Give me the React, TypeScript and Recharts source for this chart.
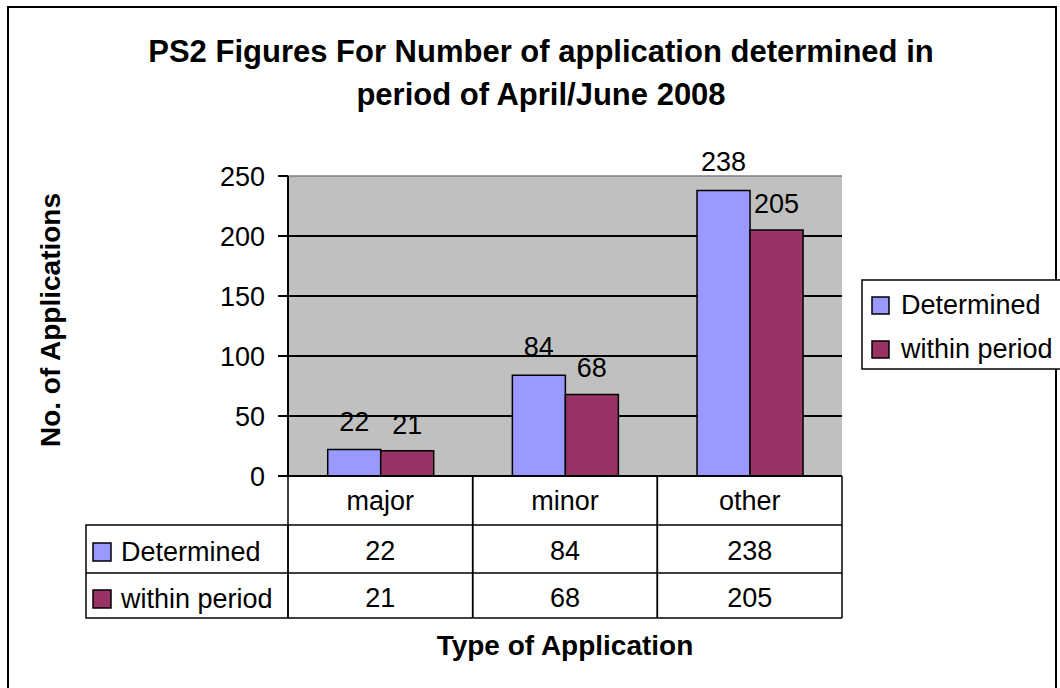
import React from "react";
import {
  BarChart,
  Bar,
  XAxis,
  YAxis,
  CartesianGrid,
  ReferenceLine,
  LabelList,
} from "recharts";

const categories = ["major", "minor", "other"];
const determined = [22, 84, 238];
const withinPeriod = [21, 68, 205];
const seriesNames = ["Determined", "within period"];
const seriesColors = ["#9999FF", "#993366"];
const yTicks = [0, 50, 100, 150, 200, 250];
const gridValues = [50, 100, 150, 200];

const title = ["PS2 Figures For Number of application determined in", "period of April/June 2008"];
const yTitle = "No. of Applications";
const xTitle = "Type of Application";

const data = categories.map((name, i) => ({
  name,
  determined: determined[i],
  within: withinPeriod[i],
}));

const FONT = "'Liberation Sans', Arial, Helvetica, sans-serif";

// data-table cells drawn under each category, hung off the x axis ticks
function TableTick(props: any) {
  const { x, y, payload } = props;
  const half = payload && payload.offset ? payload.offset : 92.3;
  const i = payload.index;
  const l = x - half;
  const r = x + half;
  const line = { stroke: "#000", strokeWidth: 1.5 };
  return (
    <g>
      <line x1={l} x2={l} y1={y} y2={y + 142} {...line} />
      <line x1={r} x2={r} y1={y} y2={y + 142} {...line} />
      <line x1={l} x2={r} y1={y + 49} y2={y + 49} {...line} />
      <line x1={l} x2={r} y1={y + 97} y2={y + 97} {...line} />
      <line x1={l} x2={r} y1={y + 142} y2={y + 142} {...line} />
      <text x={x} y={y + 34} textAnchor="middle" fontSize={27} fontFamily={FONT} fill="#000">
        {payload.value}
      </text>
      <text x={x} y={y + 84} textAnchor="middle" fontSize={27} fontFamily={FONT} fill="#000">
        {determined[i]}
      </text>
      <text x={x} y={y + 131} textAnchor="middle" fontSize={27} fontFamily={FONT} fill="#000">
        {withinPeriod[i]}
      </text>
    </g>
  );
}

export default function App() {
  return (
    <div style={{ position: "absolute", left: 0, top: 0, width: 1060, height: 688, background: "#fff", fontFamily: FONT }}>
      <BarChart
        width={1060}
        height={688}
        data={data}
        margin={{ top: 176, right: 218, bottom: 62, left: 208 }}
        barCategoryGap="21.5%"
        barGap={0}
      >
        <CartesianGrid
          vertical={false}
          horizontalValues={gridValues}
          stroke="#000"
          strokeWidth={2}
          fill="#C0C0C0"
          fillOpacity={1}
        />
        <ReferenceLine y={250} stroke="#808080" strokeWidth={1.5} />
        <XAxis
          dataKey="name"
          height={150}
          interval={0}
          tickLine={false}
          tickSize={0}
          tickMargin={0}
          axisLine={{ stroke: "#000", strokeWidth: 2 }}
          tick={(p: any) => <TableTick {...p} />}
        />
        <YAxis
          domain={[0, 250]}
          ticks={yTicks}
          width={80}
          tickSize={10}
          tickMargin={13}
          axisLine={{ stroke: "#000", strokeWidth: 2 }}
          tickLine={{ stroke: "#000", strokeWidth: 2 }}
          tick={{ fill: "#000", fontSize: 27, fontFamily: FONT }}
        />
        <YAxis
          yAxisId="frame"
          orientation="right"
          domain={[0, 250]}
          width={0}
          tick={false}
          tickLine={false}
          axisLine={{ stroke: "#808080", strokeWidth: 1.5 }}
        />
        <Bar dataKey="determined" fill={seriesColors[0]} stroke="#000" strokeWidth={1.5} isAnimationActive={false}>
          <LabelList dataKey="determined" position="top" offset={19} fill="#000" fontSize={27} fontFamily={FONT} />
        </Bar>
        <Bar dataKey="within" fill={seriesColors[1]} stroke="#000" strokeWidth={1.5} isAnimationActive={false}>
          <LabelList dataKey="within" position="top" offset={17} fill="#000" fontSize={27} fontFamily={FONT} />
        </Bar>
      </BarChart>

      <svg
        width={1060}
        height={688}
        style={{ position: "absolute", left: 0, top: 0, pointerEvents: "none" }}
      >
        {/* chart frame */}
        <path d="M8,688 V7 H1056 V688" fill="none" stroke="#000" strokeWidth={2} />

        {/* title */}
        <text x={541} y={62} textAnchor="middle" fontSize={31} fontWeight="bold" fontFamily={FONT}>
          {title[0]}
        </text>
        <text x={541} y={105} textAnchor="middle" fontSize={31} fontWeight="bold" fontFamily={FONT}>
          {title[1]}
        </text>

        {/* axis titles */}
        <text
          x={0}
          y={0}
          transform="translate(60,320) rotate(-90)"
          textAnchor="middle"
          fontSize={28}
          fontWeight="bold"
          fontFamily={FONT}
        >
          {yTitle}
        </text>
        <text x={565} y={655} textAnchor="middle" fontSize={28} fontWeight="bold" fontFamily={FONT}>
          {xTitle}
        </text>

        {/* data table key column */}
        <rect x={86} y={525} width={202} height={93} fill="none" stroke="#000" strokeWidth={1.5} />
        <line x1={86} x2={288} y1={573} y2={573} stroke="#000" strokeWidth={1.5} />
        {seriesNames.map((s, i) => (
          <g key={s}>
            <rect x={93} y={543 + i * 47} width={18} height={18} fill={seriesColors[i]} stroke="#000" strokeWidth={1.5} />
            <text x={121} y={561 + i * 47} fontSize={27} fontFamily={FONT}>
              {s}
            </text>
          </g>
        ))}

        {/* legend */}
        <rect x={862} y={280} width={210} height={89} fill="#fff" stroke="#000" strokeWidth={1.5} />
        {seriesNames.map((s, i) => (
          <g key={s}>
            <rect x={872} y={297 + i * 44} width={17} height={17} fill={seriesColors[i]} stroke="#000" strokeWidth={1.5} />
            <text x={901} y={314 + i * 44} fontSize={27} fontFamily={FONT}>
              {s}
            </text>
          </g>
        ))}
      </svg>
    </div>
  );
}
